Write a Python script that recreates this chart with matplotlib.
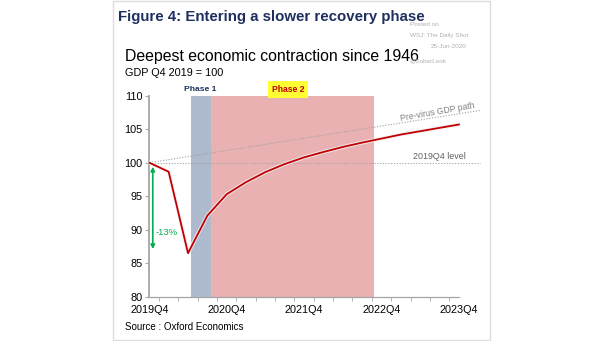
import matplotlib.pyplot as plt
import matplotlib.patheffects as pe
from matplotlib.patches import Rectangle

plt.rcParams['font.family'] = ['Liberation Sans', 'DejaVu Sans']

# quarters since 2019Q4
quarters = list(range(17))
gdp = [100.0, 98.65, 86.5, 92.1, 95.3, 97.1, 98.6, 99.8, 100.8, 101.6,
       102.35, 103.0, 103.6, 104.2, 104.7, 105.2, 105.7]
tick_labels = ['2019Q4', '2020Q4', '2021Q4', '2022Q4', '2023Q4']
tick_pos = [0, 4, 8, 12, 16]

# reference paths: pre-virus trend and 2019Q4 level
ref_x = [0, 17.1]
previrus = [100.0, 107.8]
level = [100.0, 100.0]

phase1 = (2.15, 3.19)
phase2 = (3.19, 11.6)
drop_pct = '-13%'
drop_range = (99.4, 87.1)

W, H = 605, 341
fig = plt.figure(figsize=(W / 100, H / 100), dpi=100)
fig.patch.set_facecolor('white')

# outer frame
fig.patches.append(Rectangle((113 / W, 1 - 339.5 / H), 377 / W, 338.5 / H,
                             transform=fig.transFigure, fill=False,
                             edgecolor='#dddddd', lw=1))

ax = fig.add_axes([149.3 / W, 1 - 296.7 / H, 17.2 * 19.35 / W, 201 / H])
ax.set_xlim(0, 17.2)
ax.set_ylim(80, 110)

ax.axvspan(*phase1, color='#aebacd', lw=0, zorder=0)
ax.axvspan(*phase2, color='#eab1b3', lw=0, zorder=0)

ax.plot(ref_x, previrus, color='#a0a0a0', lw=0.8, ls=(0, (1, 1.5)), zorder=1)
ax.plot(ref_x, level, color='#a0a0a0', lw=0.8, ls=(0, (1, 1.5)), zorder=1)

ax.plot(quarters, gdp, color='#c00000', lw=1.3, zorder=3,
        path_effects=[pe.Stroke(linewidth=2.8, foreground='#f4f0f4', alpha=0.8),
                      pe.Normal()])

ax.annotate('', xy=(0.18, drop_range[1]), xytext=(0.18, drop_range[0]),
            arrowprops=dict(arrowstyle='<|-|>', color='#00b050', lw=1.2,
                            mutation_scale=6, shrinkA=0, shrinkB=0))
ax.text(0.35, 89.6, drop_pct, color='#00b050', fontsize=6.8, va='center', ha='left')

ax.text(sum(phase1) / 2 - 0.05, 110.9, 'Phase 1', color='#1f2f5f', fontsize=6.1,
        fontweight='bold', ha='center', va='center', clip_on=False)
ax.text(7.17, 110.9, 'Phase 2', color='#c00000', fontsize=6.2, fontweight='bold',
        ha='center', va='center', clip_on=False,
        bbox=dict(boxstyle='square,pad=0.45', fc='#ffff33', ec='none'))

ax.text(14.9, 105.9, 'Pre-virus GDP path', color='#808080', fontsize=6.2,
        rotation=10, ha='center', va='bottom')
ax.text(15.0, 100.25, '2019Q4 level', color='#606060', fontsize=6.4,
        ha='center', va='bottom')

for s in ['top', 'right']:
    ax.spines[s].set_visible(False)
ax.spines['left'].set_color('#a6a6a6')
ax.spines['left'].set_linewidth(1.3)
ax.spines['bottom'].set_color('#a6a6a6')
ax.spines['bottom'].set_linewidth(0.9)
ax.spines['bottom'].set_bounds(0, 16)

ax.set_yticks([80, 85, 90, 95, 100, 105, 110])
ax.set_xticks(tick_pos)
ax.set_xticklabels(tick_labels)
ax.set_xticks([k + 0.5 for k in range(16)] + [16], minor=True)
ax.tick_params(axis='x', which='major', length=0, pad=6, labelsize=7.8)
ax.tick_params(axis='x', which='minor', length=3, color='#a6a6a6')
ax.tick_params(axis='y', length=3, color='#a6a6a6', labelsize=7.8, pad=2)

fig.text(118 / W, 1 - 17 / H, 'Figure 4: Entering a slower recovery phase',
         color='#1f2f5f', fontsize=10.8, fontweight='bold', va='center')
fig.text(125 / W, 1 - 57 / H, 'Deepest economic contraction since 1946',
         color='black', fontsize=11.4, va='center')
fig.text(125 / W, 1 - 73 / H, 'GDP Q4 2019 = 100', color='black', fontsize=7.8,
         va='center')
fig.text(125 / W, 1 - 327.5 / H, 'Source : Oxford Economics', color='black',
         fontsize=7.0, va='center')

wm = '#b0b0b0'
fig.text(410 / W, 1 - 25 / H, 'Posted on', color=wm, fontsize=4.6, va='center')
fig.text(410 / W, 1 - 35.7 / H, 'WSJ: The Daily Shot', color=wm, fontsize=4.6, va='center')
fig.text(467 / W, 1 - 46 / H, '25-Jun-2020', color=wm, fontsize=4.6, va='center', ha='right')
fig.text(410 / W, 1 - 61 / H, '@SoberLook', color=wm, fontsize=4.6, va='center')

fig.savefig('out.png', dpi=100)
